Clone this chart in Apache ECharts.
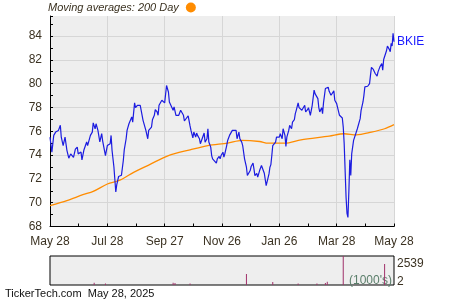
<!DOCTYPE html>
<html>
<head>
<meta charset="utf-8">
<script src="https://cdn.jsdelivr.net/npm/echarts@6/dist/echarts.min.js"></script>
<style>html,body{margin:0;padding:0;background:#fff;}#c{width:450px;height:300px;}</style>
</head>
<body>
<div id="c"></div>
<script>
// x values are days since May 28, 2024 (axis spans 0..366)
var xTickLabels = ['May 28', 'Jul 28', 'Sep 27', 'Nov 26', 'Jan 26', 'Mar 28', 'May 28'];
var priceDays = [0,2,4,6,7,9,11,12,14,16,17,18,20,22,23,25,27,29,30,33,34,36,39,40,42,43,45,46,48,49,51,53,55,56,59,61,63,64,65,66,68,70,71,73,75,76,
78,79,81,82,84,85,87,88,90,91,93,94,96,97,99,101,102,104,105,106,108,109,111,112,114,115,116,118,119,121,122,124,126,127,129,131,132,134,135,137,139,140,142,143,145,147,149,
150,152,153,155,156,157,159,160,162,164,165,167,168,169,171,172,173,175,177,178,180,181,182,184,185,186,188,189,191,192,194,195,196,198,199,201,202,204,205,207,209,210,211,213,214,216,217,218,220,221,
223,225,227,228,230,232,233,234,235,236,237,238,240,241,243,244,245,247,248,250,251,252,254,255,257,258,260,261,262,264,265,267,268,269,271,272,274,275,277,278,279,281,282,283,285,286,287,289,290,291,293,294,296,297,
299,301,302,303,305,306,308,309,311,312,313,314,315,316,317,318,319,320,321,323,324,325,327,328,330,331,333,334,335,337,338,340,341,342,344,345,346,348,349,351,352,353,354,355,357,358,359,361,362,363,364,365,366];
var prices = [75.5,74.25,75.65,75.93,75.85,76.07,76.5,75.5,74.8,75.5,75.37,74.4,73.74,74.1,74.25,73.8,74.5,74.67,74.1,74.25,73.6,74.4,75.1,74.8,74.67,75.65,75.93,76.7,76.2,76.63,76.07,75.1,75.8,75.2,73.96,74.8,74.67,74.95,75.65,74.4,73.0,70.9,71.5,72.2,72.3,72.3,
73.54,74.44,75.37,76.07,76.63,76.5,77.2,76.77,78.38,77.98,78.18,78.26,78.18,77.76,76.92,76.77,76.07,75.37,76.07,75.93,76.35,76.97,77.34,77.81,77.62,77.34,78.18,78.04,78.6,78.66,78.38,79.84,79.3,78.46,78.32,77.76,78.04,77.34,77.34,77.34,77.76,77.81,77.34,76.86,76.92,77.3,76.45,
76.07,75.45,75.93,75.51,75.85,75.65,75.37,74.95,75.0,75.85,75.09,75.37,76.21,75.09,74.67,73.96,73.68,73.54,73.32,73.68,73.88,73.68,73.96,74.24,73.82,74.1,74.8,75.23,75.65,75.79,76.07,76.21,76.13,76.07,75.37,75.93,75.37,75.09,74.8,73.68,72.98,72.28,72.42,72.7,73.04,73.32,72.84,72.28,72.47,72.14,
72.7,73.12,72.98,72.47,71.43,71.57,72.42,72.98,73.2,73.96,74.8,74.67,75.09,75.51,75.37,75.51,75.79,75.37,76.21,75.65,74.72,75.51,76.07,76.49,76.21,76.77,76.97,77.48,77.76,78.38,77.98,78.1,77.76,77.7,78.18,77.62,77.81,77.98,77.34,77.34,78.18,79.45,79.16,79.3,78.74,77.98,77.62,77.98,77.48,78.38,79.59,79.73,79.7,79.35,
79.02,78.94,79.39,78.6,78.32,77.98,77.34,77.2,77.11,76.35,74.95,72.7,70.45,69.1,68.76,71.0,73.6,72.28,74.1,75.23,75.37,75.37,76.21,76.3,77.06,77.76,78.46,79.02,79.73,79.87,79.78,80.0,80.71,81.36,81.19,81.13,80.85,80.63,80.99,81.41,81.27,81.69,81.13,82.03,82.12,82.76,83.16,82.88,82.68,83.38,83.16,84.22,83.52];
var maDays = [0,18,35,46,61,75,89,106,126,149,168,189,204,223,232,250,267,297,313,326,342,356,366];
var maValues = [69.75,70.17,70.67,70.95,71.57,71.91,72.55,73.2,73.96,74.44,74.8,75.0,75.23,75.14,75.0,75.0,75.28,75.59,75.79,75.7,75.93,76.21,76.55];
var volDays = [47,59,131,133,149,209,237,264,284,293,295,312,356];
var volumes = [280,180,280,240,180,1330,360,180,180,240,400,3600,2539];
var volLabels = [2, 2539];

function pairs(xs, ys) { return xs.map(function (x, i) { return [x, ys[i]]; }); }

var FONT = 'Liberation Sans';
var TXT = '#3b3222';
var chart = echarts.init(document.getElementById('c'), null, { renderer: 'canvas' });
chart.setOption({
  animation: false,
  backgroundColor: '#ffffff',
  textStyle: { fontFamily: FONT },
  legend: {
    left: 48, top: 2, align: 'right', selectedMode: false,
    itemWidth: 10, itemHeight: 10, padding: 0,
    data: [{ name: 'Moving averages: 200 Day', icon: 'circle', itemStyle: { color: '#ff8c00' } }],
    textStyle: { fontFamily: FONT, fontSize: 11, fontStyle: 'italic', color: '#3a3120', padding: [0, 2, 0, 0] }
  },
  grid: [
    { left: 50, top: 16, width: 344, height: 210.5, show: true, backgroundColor: '#eeeeee', borderWidth: 0 },
    { left: 50, top: 256, width: 344, height: 29, show: true, backgroundColor: '#eeeeee', borderColor: '#000000', borderWidth: 1 }
  ],
  xAxis: [
    {
      gridIndex: 0, type: 'value', min: 0, max: 366, interval: 61,
      axisLine: { show: true, lineStyle: { color: '#000', width: 1 } },
      axisTick: { show: true, inside: true, length: 3, lineStyle: { color: '#000' } },
      minorTick: { show: true, splitNumber: 2, length: 3, lineStyle: { color: '#000' } },
      splitLine: { show: true, lineStyle: { color: '#d6d6d6', width: 1 } },
      axisLabel: {
        color: TXT, fontSize: 12, fontFamily: FONT, margin: 9,
        formatter: function (v) { var i = Math.round(v / 61); return xTickLabels[i] || ''; }
      }
    },
    {
      gridIndex: 1, type: 'value', min: 0, max: 366,
      axisLine: { show: false }, axisTick: { show: false }, axisLabel: { show: false }, splitLine: { show: false }
    }
  ],
  yAxis: [
    {
      gridIndex: 0, type: 'value', min: 68, max: 85.68, interval: 2,
      axisLine: { show: true, lineStyle: { color: '#000', width: 1 } },
      axisTick: { show: true, inside: true, length: 3, lineStyle: { color: '#000' } },
      minorTick: { show: true, splitNumber: 2, length: 3, lineStyle: { color: '#000' } },
      splitLine: { show: true, showMaxLine: false, lineStyle: { color: '#d6d6d6', width: 1 } },
      axisLabel: {
        color: TXT, fontSize: 12, fontFamily: FONT, margin: 8,
        formatter: function (v) { return (Math.abs(v - Math.round(v)) < 1e-6 && Math.round(v) % 2 === 0) ? String(Math.round(v)) : ''; }
      }
    },
    {
      gridIndex: 1, type: 'value', min: 0, max: 3506, position: 'right',
      axisLine: { show: false }, axisTick: { show: false }, splitLine: { show: false },
      axisLabel: {
        customValues: volLabels, color: TXT, fontSize: 12, fontFamily: FONT, margin: 3,
        formatter: function (v) { return v < 100 ? '{lo|' + v + '}' : String(v); },
        rich: { lo: { fontSize: 12, fontFamily: FONT, color: TXT, padding: [0, 0, 6, 0] } }
      }
    }
  ],
  graphic: [
    { type: 'text', left: 5, top: 288, style: { text: 'TickerTech.com  May 28, 2025', font: '11px "Liberation Sans"', fill: '#111111' }, silent: true },
    { type: 'text', right: 58, top: 275, style: { text: "(1000's)", font: '12px "Liberation Sans"', fill: '#5b7f6b' }, silent: true }
  ],
  series: [
    {
      name: 'Moving averages: 200 Day', type: 'line', xAxisIndex: 0, yAxisIndex: 0,
      data: pairs(maDays, maValues), showSymbol: false, smooth: 0.3,
      lineStyle: { color: '#ff8c00', width: 1.3 }, itemStyle: { color: '#ff8c00' }, z: 3
    },
    {
      name: 'BKIE', type: 'line', xAxisIndex: 0, yAxisIndex: 0,
      data: pairs(priceDays, prices), showSymbol: false,
      lineStyle: { color: '#1c1ce0', width: 1.2 }, itemStyle: { color: '#1c1ce0' }, z: 4,
      endLabel: { show: true, formatter: 'BKIE', color: '#1a1aff', fontSize: 12, fontFamily: FONT, distance: 3 }
    },
    {
      name: 'Volume', type: 'bar', xAxisIndex: 1, yAxisIndex: 1,
      data: pairs(volDays, volumes), barWidth: 1, clip: true,
      itemStyle: { color: '#a0306a' }
    }
  ]
});
</script>
</body>
</html>
